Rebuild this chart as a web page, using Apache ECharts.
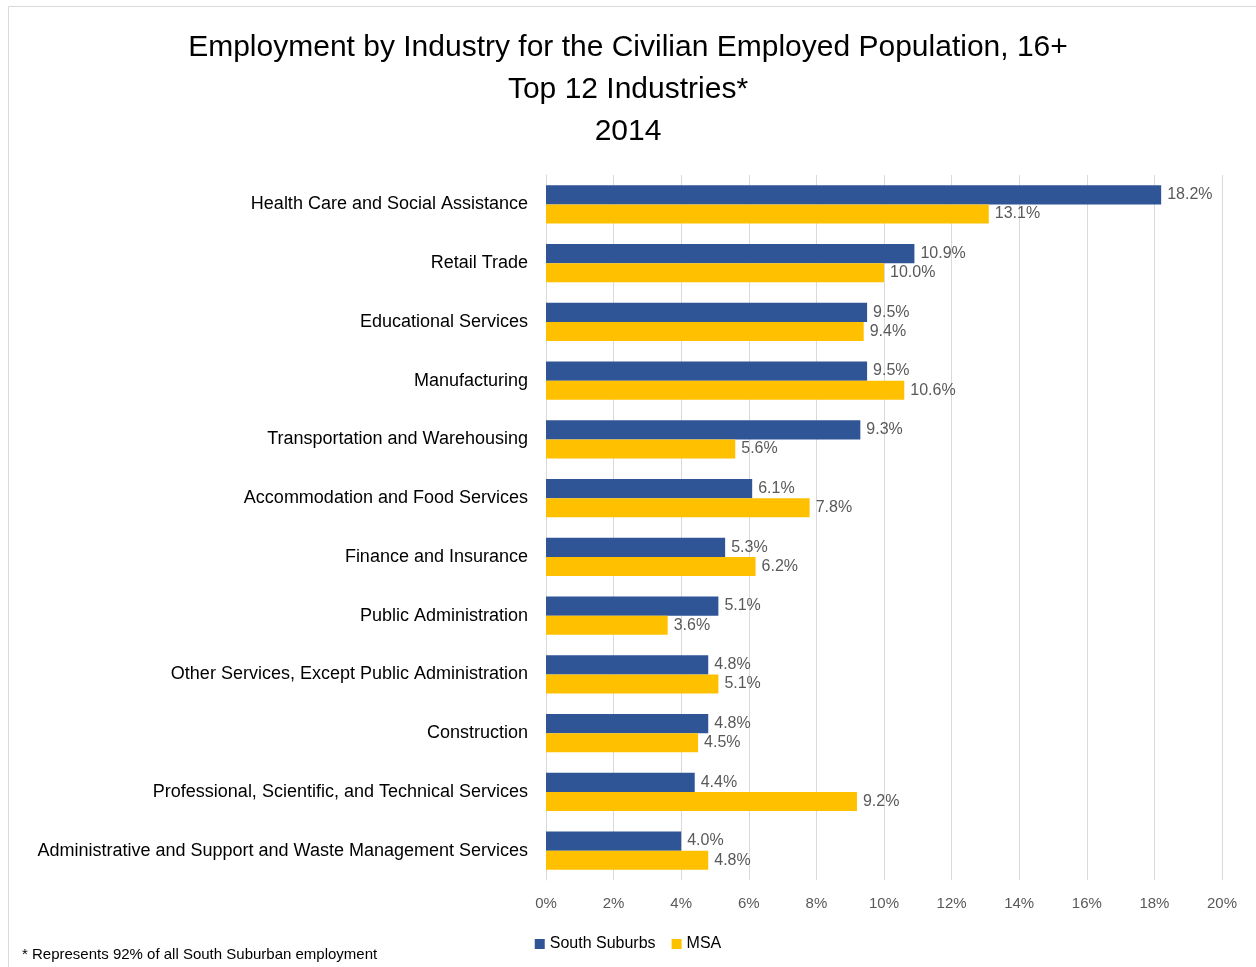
<!DOCTYPE html>
<html><head><meta charset="utf-8">
<script src="https://cdn.jsdelivr.net/npm/echarts@6/dist/echarts.min.js"></script>
<style>html,body{margin:0;padding:0;background:#fff}#c{width:1256px;height:967px}</style>
</head><body><div id="c"></div>
<script>
const categories = [
  "Health Care and Social Assistance",
  "Retail Trade",
  "Educational Services",
  "Manufacturing",
  "Transportation and Warehousing",
  "Accommodation and Food Services",
  "Finance and Insurance",
  "Public Administration",
  "Other Services, Except Public Administration",
  "Construction",
  "Professional, Scientific, and Technical Services",
  "Administrative and Support and Waste Management Services"
];
const southSuburbs = [18.2, 10.9, 9.5, 9.5, 9.3, 6.1, 5.3, 5.1, 4.8, 4.8, 4.4, 4.0];
const msa = [13.1, 10.0, 9.4, 10.6, 5.6, 7.8, 6.2, 3.6, 5.1, 4.5, 9.2, 4.8];
const titleLines = ["Employment by Industry for the Civilian Employed Population, 16+", "Top 12 Industries*", "2014"];
const footnote = "* Represents 92% of all South Suburban employment";

const FONT = "'Liberation Sans', sans-serif";
const chart = echarts.init(document.getElementById('c'), null, {renderer: 'canvas'});
const labelStyle = {show: true, position: 'right', distance: 6, formatter: p => p.value.toFixed(1) + '%', color: '#595959', fontSize: 16, fontFamily: FONT};
chart.setOption({
  animation: false,
  textStyle: {fontFamily: FONT},
  title: {text: titleLines.join('\n'), left: 'center', top: 22, textStyle: {fontSize: 30, fontWeight: 'normal', color: '#000', lineHeight: 42, fontFamily: FONT}},
  graphic: [
    {type: 'rect', shape: {x: 8.5, y: 6.5, width: 1260, height: 980}, style: {fill: 'none', stroke: '#d9d9d9', lineWidth: 1}},
    {type: 'text', left: 22, top: 947, style: {text: footnote, fontSize: 15, fill: '#000', fontFamily: FONT}}
  ],
  legend: {bottom: 10, left: 'center', itemWidth: 10, itemHeight: 10, itemGap: 16, icon: 'rect', textStyle: {fontSize: 16, color: '#000', fontFamily: FONT}, data: ['South Suburbs', 'MSA']},
  grid: {left: 546, right: 34, top: 175, bottom: 87, containLabel: false},
  xAxis: {type: 'value', min: 0, max: 20, interval: 2,
    axisLabel: {formatter: v => v + '%', color: '#595959', fontSize: 15, margin: 16, fontFamily: FONT},
    splitLine: {lineStyle: {color: '#d9d9d9', width: 1}}, axisLine: {show: false}, axisTick: {show: false}},
  yAxis: {type: 'category', data: categories, inverse: true,
    axisLabel: {color: '#000', fontSize: 18, margin: 18, fontFamily: FONT},
    axisLine: {lineStyle: {color: '#d9d9d9'}}, axisTick: {show: false}},
  series: [
    {name: 'South Suburbs', type: 'bar', data: southSuburbs, barGap: '0%', barCategoryGap: '35%', itemStyle: {color: '#2F5597'}, label: labelStyle},
    {name: 'MSA', type: 'bar', data: msa, barGap: '0%', barCategoryGap: '35%', itemStyle: {color: '#FFC000'}, label: labelStyle}
  ]
});
</script></body></html>
